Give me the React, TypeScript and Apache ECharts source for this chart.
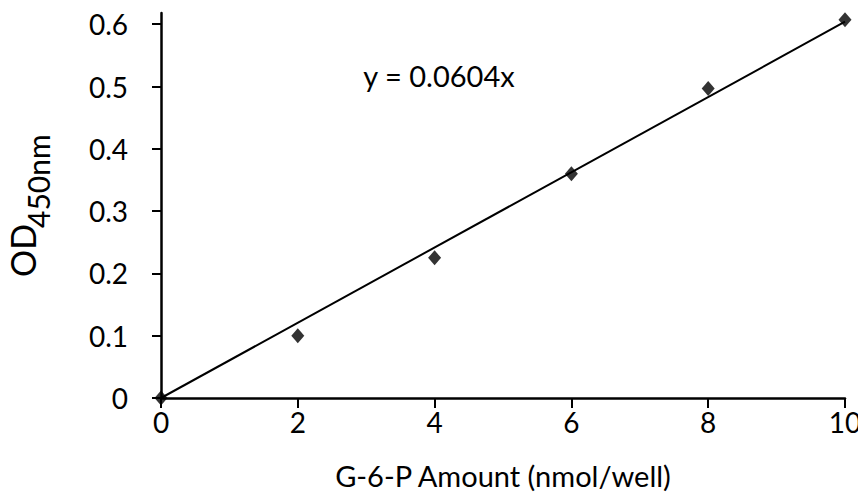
import React, { useEffect, useRef } from "react";
import * as echarts from "echarts";

const xValues = [0, 2, 4, 6, 8, 10];
const odValues = [0, 0.1, 0.225, 0.36, 0.497, 0.607];
const trendX = [0, 10];
const trendY = [0, 0.604];
const yTickValues = [0, 0.1, 0.2, 0.3, 0.4, 0.5, 0.6];
const equationText = "y = 0.0604x";
const xAxisTitle = "G-6-P Amount (nmol/well)";
const yAxisTitleMain = "OD";
const yAxisTitleSub = "450nm";

const FONT = "Lato, 'Open Sans', sans-serif";

export default function App() {
  const ref = useRef<HTMLDivElement>(null);
  useEffect(() => {
    if (!ref.current) return;
    const chart = echarts.init(ref.current, null, { renderer: "svg" });
    chart.setOption({
      animation: false,
      backgroundColor: "#ffffff",
      textStyle: { fontFamily: FONT, color: "#000" },
      grid: {
        left: 161,
        right: 13,
        top: 13,
        bottom: 98,
        containLabel: false,
        outerBoundsMode: "none",
      },
      xAxis: {
        type: "value",
        min: 0,
        max: 10,
        interval: 2,
        name: xAxisTitle,
        nameLocation: "middle",
        nameGap: 63,
        nameTextStyle: { fontFamily: FONT, fontSize: 29, color: "#000" },
        axisLine: { show: true, onZero: false, lineStyle: { color: "#000", width: 2.5 } },
        axisTick: { show: true, inside: false, length: 10, lineStyle: { color: "#000", width: 2 } },
        axisLabel: { fontFamily: FONT, fontSize: 28, color: "#000", margin: 10 },
        splitLine: { show: false },
      },
      yAxis: {
        type: "value",
        min: 0,
        max: 0.618,
        axisLine: { show: true, onZero: false, lineStyle: { color: "#000", width: 2.5 } },
        axisTick: {
          show: true,
          inside: false,
          length: 9,
          customValues: yTickValues,
          lineStyle: { color: "#000", width: 2 },
        },
        axisLabel: {
          fontFamily: FONT,
          fontSize: 28,
          color: "#000",
          margin: 33,
          customValues: yTickValues,
        },
        splitLine: { show: false },
      },
      graphic: [
        {
          type: "text",
          x: 439,
          y: 75,
          style: {
            text: equationText,
            fontFamily: FONT,
            fontSize: 29,
            fill: "#000",
            textAlign: "center",
            textVerticalAlign: "middle",
          },
        },
        {
          type: "group",
          x: 22,
          y: 207,
          rotation: Math.PI / 2,
          children: [
            {
              type: "text",
              x: -70,
              y: 0,
              style: {
                text: yAxisTitleMain,
                fontFamily: FONT,
                fontSize: 34,
                fill: "#000",
                textAlign: "left",
                textVerticalAlign: "middle",
              },
            },
            {
              type: "text",
              x: -21,
              y: 16,
              style: {
                text: yAxisTitleSub,
                fontFamily: FONT,
                fontSize: 30,
                fill: "#000",
                textAlign: "left",
                textVerticalAlign: "middle",
              },
            },
          ],
        },
      ],
      series: [
        {
          type: "line",
          data: trendX.map((x, i) => [x, trendY[i]]),
          showSymbol: false,
          symbol: "none",
          clip: false,
          lineStyle: { color: "#000", width: 2 },
          z: 2,
        },
        {
          type: "scatter",
          data: xValues.map((x, i) => [x, odValues[i]]),
          symbol: "diamond",
          symbolSize: [13, 15],
          clip: false,
          itemStyle: { color: "#000" },
          z: 3,
        },
      ],
    });
    return () => chart.dispose();
  }, []);
  return (
    <div
      ref={ref}
      style={{ position: "fixed", left: 0, top: 0, width: 858, height: 496 }}
    />
  );
}
